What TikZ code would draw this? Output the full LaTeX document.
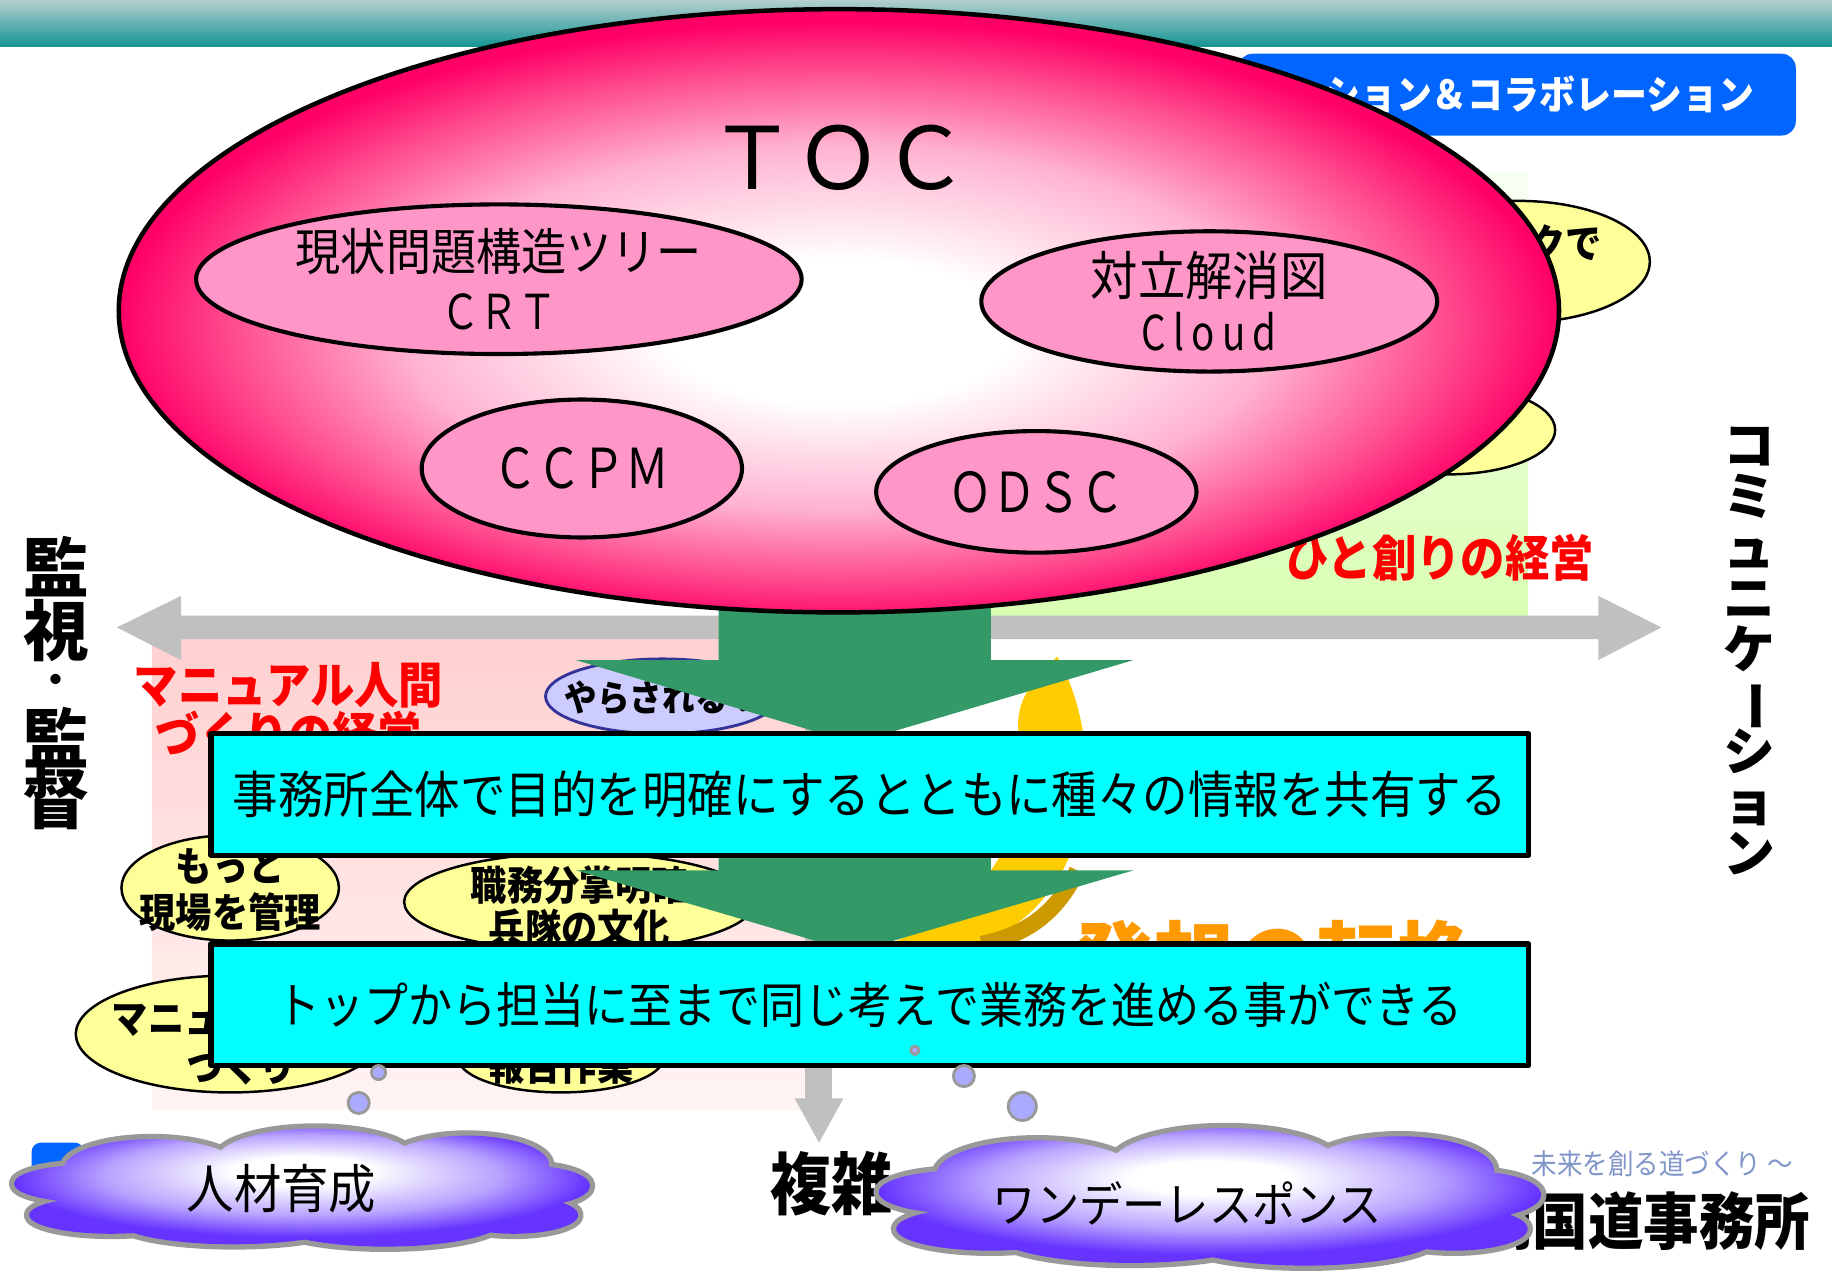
\documentclass[tikz,border=0pt]{standalone}
\usepackage{fontspec}
\setmainfont{Noto Sans CJK JP}[FakeStretch=0.9]
\newfontfamily\jpw{Noto Sans CJK JP}
\newfontfamily\jpc{Noto Sans CJK JP}[FakeStretch=0.8]
\usetikzlibrary{shapes.geometric}

\definecolor{bannertop}{HTML}{B5CFCF}
\definecolor{bannerteal}{HTML}{149494}
\definecolor{bannerblue}{HTML}{0066FF}
\definecolor{greentop}{HTML}{F7FFF2}
\definecolor{greenbottom}{HTML}{D9FFB3}
\definecolor{pinktop}{HTML}{FFD0D0}
\definecolor{pinkbottom}{HTML}{FFF4F4}
\definecolor{blobpink}{HTML}{FF96C8}
\definecolor{blobyellow}{HTML}{FFFF99}
\definecolor{lavfill}{HTML}{CCCCFF}
\definecolor{lavline}{HTML}{333399}
\definecolor{axisgray}{HTML}{C0C0C0}
\definecolor{arrowgreen}{HTML}{339966}
\definecolor{gold}{HTML}{FFCC00}
\definecolor{golddark}{HTML}{CC9900}
\definecolor{ideaorange}{HTML}{FF9900}
\definecolor{tocpink}{HTML}{FF0066}
\definecolor{tocmid}{HTML}{FFB3D1}
\definecolor{tocdeep}{HTML}{FF4D8F}
\definecolor{puffviolet}{HTML}{6633FF}
\definecolor{puffmid}{HTML}{B8A3FF}
\definecolor{puffgray}{HTML}{999999}
\definecolor{bubblelav}{HTML}{AAAAFF}
\definecolor{mottoblue}{HTML}{8095C8}
\definecolor{boxcyan}{HTML}{00FFFF}

\pgfdeclareradialshading{tocshade}{\pgfpoint{0bp}{-2bp}}{color(0bp)=(white); color(6bp)=(white); color(15bp)=(tocmid); color(21bp)=(tocdeep); color(25bp)=(tocpink); color(50bp)=(tocpink)}
\pgfdeclareradialshading{puffshade}{\pgfpoint{0bp}{8bp}}{color(0bp)=(white); color(6bp)=(white); color(17bp)=(puffmid); color(25bp)=(puffviolet); color(50bp)=(puffviolet)}

\newcommand\tightlines{\lineskiplimit=-50pt\relax}
\def\puffs{-128/-17/75/25, 12/-24/85/27, 142/-20/70/25, -183/-4/63/16, -163/23/70/16,
  197/-2/50/17, 182/23/55/16, -58/28/100/20, 72/28/100/22, 2/3/200/30}

\tikzset{
  pinkblob/.style={ellipse, draw, line width=1pt, fill=blobpink, inner sep=0pt},
  yellowblob/.style={ellipse, draw, line width=0.6pt, fill=blobyellow, inner sep=0pt},
  infobox/.style={rectangle, draw, line width=1.3pt, fill=boxcyan, inner sep=0pt, minimum width=11.27cm, minimum height=1.04cm},
  bubble/.style={circle, draw=puffgray, line width=0.7pt, fill=bubblelav, inner sep=0pt},
  boldtext/.style={font=\bfseries\fontsize{9.8pt}{11pt}\selectfont, align=center, inner sep=0pt},
  redtitle/.style={text=red, font=\bfseries\fontsize{12pt}{12.2pt}\selectfont, align=center, inner sep=0pt},
  plaintext/.style={inner sep=0pt, align=center},
  sidetext/.style={inner sep=0pt, align=center, font={\jpw\bfseries\fontsize{16pt}{15.4pt}\selectfont\tightlines}},
}

\begin{document}
\begin{tikzpicture}[x=0.01cm, y=-0.01cm, line join=round]
\useasboundingbox (0,0) rectangle (1568,1098);

\fill[top color=bannertop, bottom color=bannerteal] (0,0) rectangle (1568,40);
\fill[bannerblue, rounded corners=0.12cm] (1060,46) rectangle (1537,116);
\node[plaintext, anchor=east, text=white, font=\bfseries\fontsize{9.7pt}{10pt}\selectfont] (collab) at (1502,81) {ション＆コラボレーション};

\fill[top color=greentop, bottom color=greenbottom] (712,148) rectangle (1308,527);
\fill[top color=pinktop, bottom color=pinkbottom] (130,545) rectangle (700,950);

\node[yellowblob, minimum width=2.24cm, minimum height=1.04cm] (network) at (1300,224) {};
\node[boldtext, anchor=east] (networktxt) at (1372,208) {クで};
\node[yellowblob, minimum width=1.82cm, minimum height=0.76cm] (other) at (1240,368) {};
\node[redtitle] (hitozukuri) at (1232,477) {ひと創りの経営};

\fill[axisgray] (100,537) -- (155,510) -- (155,527) -- (1368,527) -- (1368,510) -- (1422,537)
  -- (1368,565) -- (1368,547) -- (155,547) -- (155,565) -- cycle;
\fill[axisgray] (689,547) -- (712,547) -- (712,940) -- (722,940) -- (701,978) -- (680,940) -- (689,940) -- cycle;

\node[redtitle, font={\bfseries\fontsize{12pt}{12.2pt}\selectfont\tightlines}] (manual) at (247,608) {マニュアル人間\\づくりの経営};

\node[yellowblob, minimum width=1.86cm, minimum height=0.90cm] (motto) at (197,760) {};
\node[boldtext, font={\bfseries\fontsize{9.8pt}{11.1pt}\selectfont\tightlines}] (mottotxt) at (197,762) {もっと\\現場を管理};
\node[yellowblob, minimum width=3.00cm, minimum height=0.84cm] (shokumu) at (496,772) {};
\node[boldtext, font={\bfseries\fontsize{9.8pt}{10.5pt}\selectfont\tightlines}] (shokumutxt) at (496,776) {職務分掌明確\\兵隊の文化};
\node[yellowblob, minimum width=2.64cm, minimum height=1.00cm] (manu) at (197,885) {};
\node[boldtext, anchor=west] (manutxt) at (95,873) {マニュ};
\node[boldtext] (zukuri) at (207,912) {づくり};
\node[yellowblob, minimum width=1.76cm, minimum height=0.60cm] (houkoku) at (480,905) {};
\node[boldtext] (houkokutxt) at (480,912) {報告作業};
\node[ellipse, draw=lavline, line width=0.7pt, fill=lavfill, inner sep=0pt, minimum width=2.00cm, minimum height=0.64cm] (yarasare) at (567,596) {};
\node[boldtext, font=\bfseries\fontsize{8.8pt}{9pt}\selectfont] (yarasaretxt) at (567,597) {やらされる？};

\fill[gold] (905,562) .. controls (948,640) and (940,765) .. (840,808) -- (760,808)
  .. controls (860,772) and (886,690) .. (872,628) .. controls (868,600) and (885,580) .. (905,562);
\draw[golddark, line width=4pt] (922,745) .. controls (905,780) and (880,800) .. (840,808);
\node[plaintext, text=ideaorange, font=\bfseries\fontsize{22pt}{22pt}\selectfont] (tenkan) at (1092,824) {発想の転換};

\fill[arrowgreen] (615,480) -- (848,480) -- (848,565) -- (970,565) -- (731,636) -- (493,565) -- (615,565) -- cycle;
\fill[arrowgreen] (615,700) -- (848,700) -- (848,745) -- (970,745) -- (731,815) -- (493,745) -- (615,745) -- cycle;

\node[ellipse, draw, line width=1.1pt, shading=tocshade, inner sep=0pt, minimum width=12.32cm, minimum height=5.16cm] (toc) at (718,266) {};
\node[plaintext, font=\jpw\fontsize{21pt}{22pt}\selectfont] (toctitle) at (718,135) {ＴＯＣ};
\node[pinkblob, minimum width=5.18cm, minimum height=1.28cm] (crt) at (427,239) {};
\node[plaintext, font=\fontsize{12.2pt}{14.2pt}\selectfont] (crttxt) at (crt.center) {現状問題構造ツリー\\{\jpc\fontsize{11.7pt}{14.2pt}\selectfont ＣＲＴ}};
\node[pinkblob, minimum width=3.90cm, minimum height=1.20cm] (cloudfig) at (1035,258) {};
\node[plaintext, font=\fontsize{12.8pt}{13.4pt}\selectfont] (cloudtxt) at (cloudfig.center) {対立解消図\\{\jpc\addfontfeatures{LetterSpace=15}\fontsize{11.7pt}{13.4pt}\selectfont Cloud}};
\node[pinkblob, minimum width=2.74cm, minimum height=1.18cm] (ccpm) at (498,401) {};
\node[plaintext, font=\jpc\fontsize{13.4pt}{14pt}\selectfont] (ccpmtxt) at (ccpm.center) {ＣＣＰＭ};
\node[pinkblob, minimum width=2.74cm, minimum height=1.04cm] (odsc) at (887,421) {};
\node[plaintext, font=\jpc\fontsize{13.4pt}{14pt}\selectfont] (odsctxt) at (odsc.center) {ＯＤＳＣ};

\node[infobox, font=\fontsize{12.3pt}{13pt}\selectfont] (share) at (744.5,680) {事務所全体で目的を明確にするとともに種々の情報を共有する};
\node[infobox, font=\fontsize{11.9pt}{13pt}\selectfont] (sameidea) at (744.5,860) {トップから担当に至まで同じ考えで業務を進める事ができる};

\node[bubble, minimum size=0.18cm] (b1) at (307,944) {};
\node[bubble, minimum size=0.12cm] (b2) at (324,918) {};
\node[bubble, minimum size=0.18cm] (b3) at (825,921) {};
\node[bubble, minimum size=0.24cm] (b4) at (875,947) {};
\node[bubble, minimum size=0.07cm] (b5) at (783,899) {};

\node[sidetext] (kanshi) at (48,513) {監\\視};
\node[sidetext, font=\jpw\bfseries\fontsize{9pt}{9pt}\selectfont] (kdot) at (48,585) {・};
\node[sidetext, font={\jpw\bfseries\fontsize{16pt}{14.5pt}\selectfont\tightlines}] (kantoku) at (48,658) {監\\督};
\node[plaintext, font={\jpw\bfseries\fontsize{12.6pt}{12.4pt}\selectfont\tightlines}] (commu) at (1497,557)
  {コ\\ミ\\ュ\\ニ\\ケ\\\rotatebox[origin=c]{-90}{ー}\\シ\\ョ\\ン};

\fill[bannerblue, rounded corners=0.08cm] (27,978) rectangle (72,1020);
\node[plaintext, anchor=east, text=mottoblue, font=\fontsize{6.9pt}{7pt}\selectfont] (mottoline) at (1535,996) {未来を創る道づくり ～};
\node[plaintext, anchor=east, font=\bfseries\fontsize{15pt}{15pt}\selectfont] (office) at (1550,1045) {岡国道事務所};
\node[plaintext, font=\bfseries\fontsize{16.5pt}{16.5pt}\selectfont] (fukuzatsu) at (712,1013) {複雑};

\begin{scope}[shift={(258,1017)}]
\draw[puffgray, line width=2.6pt] \foreach \dx/\dy/\rx/\ry in \puffs {(\dx,\dy) ellipse ({\rx} and {\ry})};
\shade[shading=puffshade] \foreach \dx/\dy/\rx/\ry in \puffs {(\dx,\dy) ellipse ({\rx} and {\ry})};
\end{scope}
\node[plaintext, font=\fontsize{12.8pt}{13pt}\selectfont] (jinzaitxt) at (241,1017) {人材育成};

\begin{scope}[shift={(1035,1025)}, xscale=1.15, yscale=1.165]
\draw[puffgray, line width=2.6pt] \foreach \dx/\dy/\rx/\ry in \puffs {(\dx,\dy) ellipse ({\rx} and {\ry})};
\shade[shading=puffshade] \foreach \dx/\dy/\rx/\ry in \puffs {(\dx,\dy) ellipse ({\rx} and {\ry})};
\end{scope}
\node[plaintext, font=\fontsize{11.7pt}{12pt}\selectfont] (onedaytxt) at (1016,1030) {ワンデーレスポンス};
\end{tikzpicture}
\end{document}
